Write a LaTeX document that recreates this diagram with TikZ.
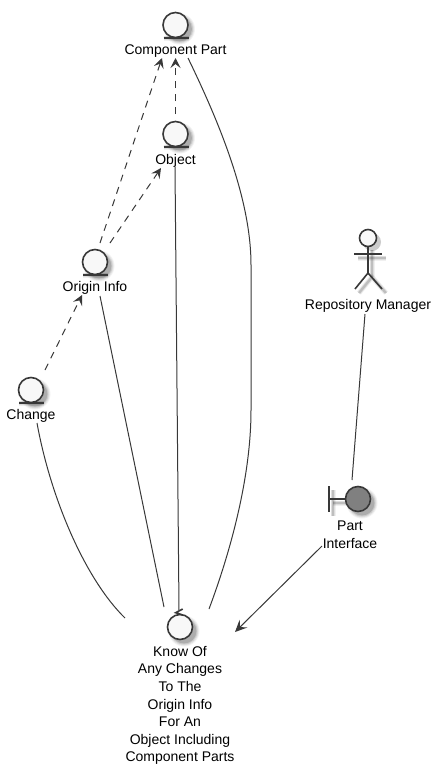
\documentclass[tikz,border=0pt]{standalone}
\usepackage{fontspec}
\setmainfont{Liberation Sans}
\usetikzlibrary{arrows.meta,calc}
\definecolor{ink}{HTML}{383838}
\definecolor{paper}{HTML}{F8F8F8}
\definecolor{bfill}{HTML}{808080}
\newcommand{\softshadow}[1]{%
  \foreach \w/\o in {5/0.06,3.6/0.08,2.2/0.14}{%
    \draw[black,line width=\w pt,opacity=\o,shift={(4,4)}] #1;}}
\newcommand{\softdisc}[1]{%
  \foreach \rr/\o in {15.5/0.05,14.5/0.07,13.5/0.10,12.5/0.14}{%
    \fill[black,opacity=\o] ($(#1)+(4,4)$) circle (\rr pt);}}
\tikzset{
  iconc/.style={circle,draw=ink,fill=paper,line width=1.6pt,minimum size=25pt,inner sep=0pt},
  thick ink/.style={draw=ink,line width=1.6pt},
  lab/.style={font=\fontsize{14}{17.6}\selectfont,align=center,text=black,inner sep=0pt,anchor=center},
  link/.style={draw=ink,line width=1pt},
  dep/.style={link,dash pattern=on 7pt off 6pt,-{Stealth[length=10pt,width=10pt,inset=4pt,fill=ink]}},
  assoc/.style={link,-{Stealth[length=12pt,width=11pt,inset=5pt,fill=ink]}}
}
\begin{document}
\begin{tikzpicture}[x=1pt,y=-1pt]
\useasboundingbox (0,0) rectangle (443,774);
\coordinate (cpc) at (175.5,25);
\coordinate (objc) at (175.5,134);
\coordinate (oic) at (95,262);
\coordinate (chc) at (31,390);
\coordinate (ifc) at (358,499);
\coordinate (knc) at (180,627);
\coordinate (rmc) at (368,238);
% shadows
\softdisc{cpc}\softdisc{objc}\softdisc{oic}\softdisc{chc}\softdisc{ifc}\softdisc{knc}
\foreach \n in {cpc,objc,oic,chc}{\softshadow{($(\n)+(-12,13)$) -- ($(\n)+(13,13)$)}}
\softshadow{(329,499) -- (346,499)}
\softshadow{(329,486) -- (329,512)}
\softshadow{(354,254) -- (382,254)}
\softshadow{(368,246) -- (368,273)}
\softshadow{(355,289) -- (368,273) -- (382,289)}
\fill[black,opacity=0.2] (372,242) circle (9pt);
% entities
\node[iconc] (cp) at (cpc) {};
\draw[thick ink] ($(cp)+(-12,13)$) -- ($(cp)+(13,13)$);
\node[lab] (cpl) at (175.5,51) {Component Part};
\node[iconc] (obj) at (objc) {};
\draw[thick ink] ($(obj)+(-12,13)$) -- ($(obj)+(13,13)$);
\node[lab] (objl) at (175.5,161) {Object};
\node[iconc] (oi) at (oic) {};
\draw[thick ink] ($(oi)+(-12,13)$) -- ($(oi)+(13,13)$);
\node[lab] (oil) at (95,288) {Origin Info};
\node[iconc] (ch) at (chc) {};
\draw[thick ink] ($(ch)+(-12,13)$) -- ($(ch)+(13,13)$);
\node[lab] (chl) at (31,416) {Change};
% actor
\node[circle,draw=ink,fill=paper,line width=1.6pt,minimum size=17pt,inner sep=0pt] (rm) at (rmc) {};
\draw[thick ink] (rm.south) -- ($(rm)+(0,35)$);
\draw[thick ink] ($(rm)+(-14,16)$) -- ($(rm)+(14,16)$);
\draw[thick ink] ($(rm)+(-13,51)$) -- ($(rm)+(0,35)$) -- ($(rm)+(14,51)$);
\node[lab] (rml) at (368,306) {Repository Manager};
% boundary
\node[iconc,fill=bfill] (pi) at (ifc) {};
\draw[thick ink] (329,486) -- (329,512);
\draw[thick ink] (329,499) -- (pi.west);
\node[lab] (pil) at (350,534.5) {Part\\Interface};
% control
\node[iconc] (kn) at (knc) {};
\draw[thick ink] ($(kn)+(2.7,-18)$) -- ($(kn)+(-4.3,-14.3)$) -- ($(kn)+(2.7,-12)$);
\node[lab] (knl) at (180,705.5) {Know Of\\Any Changes\\To The\\Origin Info\\For An\\Object Including\\Component Parts};
% dependencies
\draw[dep] ($(obj)+(0,-20)$) -- ($(cp)+(0,33)$);
\draw[dep] ($(oi)+(5,-19)$) -- ($(cp)+(-13.5,33)$);
\draw[dep] ($(oi)+(15,-19)$) -- ($(obj)+(-14.5,34)$);
\draw[dep] ($(ch)+(14,-20)$) -- ($(oi)+(-13,33)$);
% associations
\draw[link] ($(cp)+(12.5,33)$) .. controls ($(cp)+(45,100)$) and ($(cp)+(75.5,175)$) .. ($(cp)+(75.5,240)$)
  -- ($(cp)+(75.5,385)$) .. controls ($(cp)+(75.5,460)$) and ($(cp)+(50,540)$) .. ($(kn)+(29,-18)$);
\draw[link] ($(obj)+(-0.5,33)$) -- ($(kn)+(-1,-17)$);
\draw[link] ($(oi)+(5,34)$) -- ($(kn)+(-16,-20)$);
\draw[link] ($(ch)+(6,33)$) .. controls ($(ch)+(20,110)$) and ($(ch)+(55,190)$) .. ($(kn)+(-55,-9)$);
\draw[link] ($(rm)+(-3,76)$) -- ($(pi)+(-6,-19)$);
\draw[assoc] ($(pi)+(-36,47)$) -- ($(kn)+(55,5)$);
\end{tikzpicture}
\end{document}
